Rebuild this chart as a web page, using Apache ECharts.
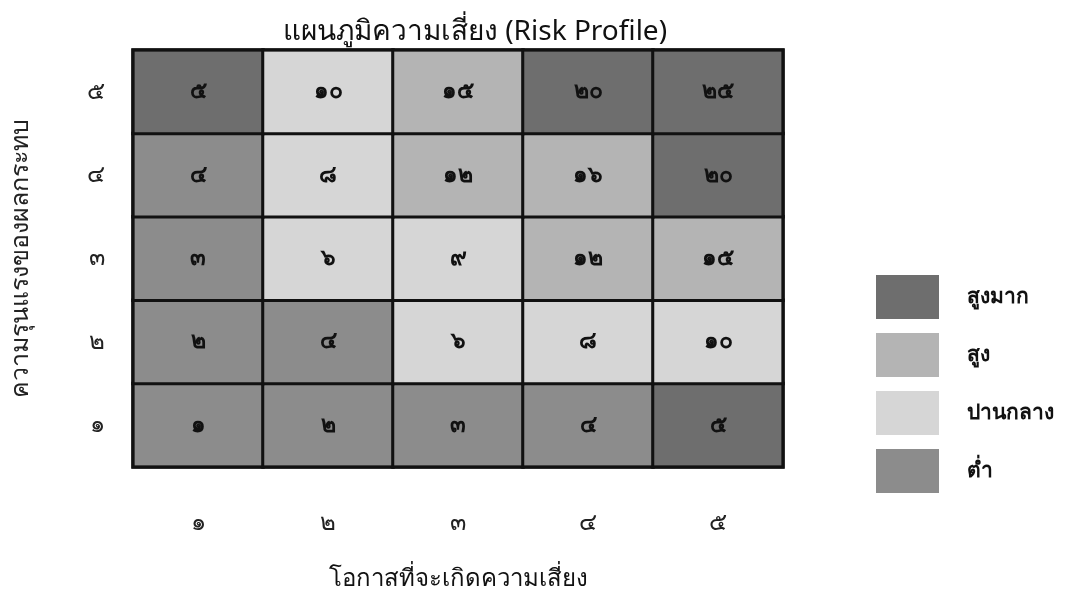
<!DOCTYPE html>
<html>
<head>
<meta charset="utf-8">
<script src="https://cdn.jsdelivr.net/npm/echarts@6/dist/echarts.min.js"></script>
<style>
  html, body { margin: 0; padding: 0; background: #fff; }
  #chart { width: 1077px; height: 594px; }
</style>
</head>
<body>
<div id="chart"></div>
<script>
const likelihood = ['๑', '๒', '๓', '๔', '๕'];
const impact = ['๑', '๒', '๓', '๔', '๕'];

// score per cell, rows = impact 1..5, cols = likelihood 1..5
const scores = [
  [1, 2, 3, 4, 5],
  [2, 4, 6, 8, 10],
  [3, 6, 9, 12, 15],
  [4, 8, 12, 16, 20],
  [5, 10, 15, 20, 25]
];

// risk level per cell as shaded in the picture: 0 low, 1 medium, 2 high, 3 very high
const levels = [
  [0, 0, 0, 0, 3],
  [0, 0, 1, 1, 1],
  [0, 1, 1, 2, 2],
  [0, 1, 2, 2, 3],
  [3, 1, 2, 3, 3]
];

const levelNames = ['ต่ำ', 'ปานกลาง', 'สูง', 'สูงมาก'];
const levelColors = ['#8c8c8c', '#d6d6d6', '#b4b4b4', '#6e6e6e'];

const thaiDigits = '๐๑๒๓๔๕๖๗๘๙';
const toThai = n => String(n).split('').map(d => thaiDigits[+d]).join('');

const cells = [];
scores.forEach((row, yi) => {
  row.forEach((s, xi) => {
    cells.push([xi, yi, levels[yi][xi], s]);
  });
});

const font = "'Noto Sans', sans-serif";
const chart = echarts.init(document.getElementById('chart'));

chart.setOption({
  animation: false,
  title: {
    text: 'แผนภูมิความเสี่ยง (Risk Profile)',
    left: 470,
    textAlign: 'center',
    top: 13,
    textStyle: { fontSize: 28, fontWeight: 'normal', color: '#111', fontFamily: font }
  },
  grid: {
    left: 133, right: 294, top: 50, bottom: 127,
    outerBoundsMode: 'none',
    show: true, borderColor: '#111', borderWidth: 3, backgroundColor: 'transparent', z: 10
  },
  xAxis: {
    type: 'category',
    data: likelihood,
    axisLine: { show: false },
    axisTick: { show: false },
    splitArea: { show: false },
    axisLabel: { margin: 44, fontSize: 24, color: '#222', fontFamily: font },
    name: 'โอกาสที่จะเกิดความเสี่ยง',
    nameLocation: 'middle',
    nameGap: 100,
    nameTextStyle: { fontSize: 24, color: '#111', fontFamily: font }
  },
  yAxis: {
    type: 'category',
    data: impact,
    axisLine: { show: false },
    axisTick: { show: false },
    axisLabel: { margin: 28, fontSize: 24, color: '#222', fontFamily: font },
    name: 'ความรุนแรงของผลกระทบ',
    nameLocation: 'middle',
    nameGap: 100,
    nameTextStyle: { fontSize: 25, color: '#222', fontFamily: font }
  },
  visualMap: {
    type: 'piecewise',
    dimension: 2,
    orient: 'vertical',
    align: 'left',
    left: 861,
    top: 260,
    itemWidth: 63,
    itemHeight: 44,
    itemGap: 14,
    itemSymbol: 'rect',
    textGap: 28,
    hoverLink: false,
    selectedMode: false,
    textStyle: { fontSize: 21, color: '#111', fontFamily: font, fontWeight: 'bold' },
    pieces: levelNames.map((name, i) => ({ value: i, label: name, color: levelColors[i] }))
  },
  series: [{
    type: 'heatmap',
    data: cells,
    label: {
      show: true,
      formatter: p => toThai(p.value[3]),
      fontSize: 23,
      fontWeight: 'bold',
      color: '#111',
      fontFamily: font
    },
    itemStyle: { borderColor: '#111', borderWidth: 3 }
  }]
});
</script>
</body>
</html>
